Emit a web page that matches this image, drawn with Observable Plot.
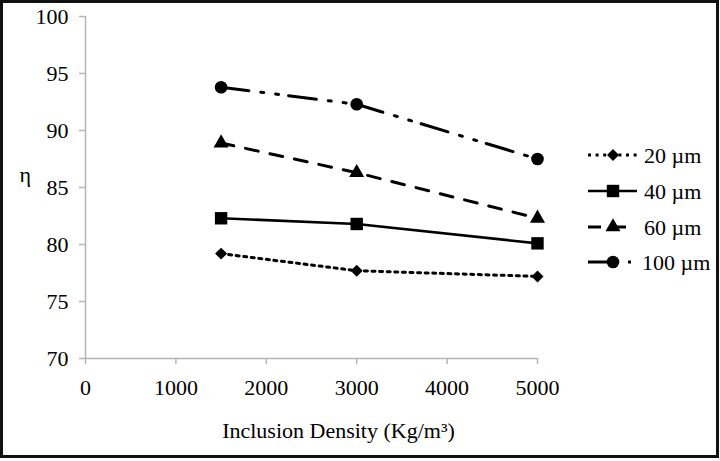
<!DOCTYPE html>
<html>
<head>
<meta charset="utf-8">
<script src="https://cdn.jsdelivr.net/npm/d3@7"></script>
<script src="https://cdn.jsdelivr.net/npm/@observablehq/plot@0.6"></script>
<style>
  html, body { margin: 0; padding: 0; background: #fff; }
  #wrap { position: relative; width: 720px; height: 461px; overflow: hidden; }
  #border { position: absolute; left: 0; top: 0; width: 713px; height: 452px; border: 3px solid #111; pointer-events: none; }
</style>
</head>
<body>
<div id="wrap"><div id="border"></div></div>
<script>
const densities = [1500, 3000, 5000];
const eta20 = [79.2, 77.7, 77.2];
const eta40 = [82.3, 81.8, 80.1];
const eta60 = [88.9, 86.3, 82.3];
const eta100 = [93.8, 92.3, 87.5];
const seriesLabels = ["20 µm", "40 µm", "60 µm", "100 µm"];
const xTicks = [0, 1000, 2000, 3000, 4000, 5000];
const yTicks = [70, 75, 80, 85, 90, 95, 100];
const xLabel = "Inclusion Density (Kg/m³)";
const yLabel = "η";

const seriesValues = [eta20, eta40, eta60, eta100];
const styles = [
  {symbol: "diamond2", r: 5.4, dash: "3 4.6", width: 3},
  {symbol: "square", r: 7.0, dash: null, width: 2.6},
  {symbol: "triangle", r: 5.6, dash: "13 12", width: 3},
  {symbol: "circle", r: 6.3, dash: "28 12 3 12 3 10", width: 3}
];

const rows = [];
seriesLabels.forEach((s, i) => densities.forEach((d, j) => rows.push({series: s, x: d, y: seriesValues[i][j]})));

const font = "'Liberation Serif', 'Times New Roman', serif";
const fs = 22;
const marks = [
  Plot.ruleY([70], {stroke: "#b5b5b5", strokeWidth: 1.5}),
  Plot.ruleX([0], {stroke: "#b5b5b5", strokeWidth: 1.5}),
  Plot.axisX({ticks: xTicks, tickSize: 6, stroke: "#b5b5b5", strokeWidth: 1.5, tickFormat: () => "", label: null}),
  Plot.axisX({ticks: xTicks, tickSize: 0, tickPadding: 21, fill: "#000", fontSize: fs, fontFamily: font, tickFormat: d => String(d), label: null}),
  Plot.axisY({ticks: yTicks, tickSize: 6, stroke: "#b5b5b5", strokeWidth: 1.5, tickFormat: () => "", label: null}),
  Plot.axisY({ticks: yTicks, tickSize: 0, tickPadding: 17, fill: "#000", fontSize: fs, fontFamily: font, tickFormat: d => String(d), label: null}),
  Plot.text([xLabel], {frameAnchor: "bottom", dx: 27, dy: 79, fontSize: fs, fontFamily: font, fill: "#000"}),
  Plot.text([yLabel], {frameAnchor: "left", dx: -66, dy: -13, fontSize: fs, fontFamily: font, fill: "#000"})
];
seriesLabels.forEach((s, i) => {
  const data = rows.filter(d => d.series === s);
  const st = styles[i];
  marks.push(Plot.line(data, {x: "x", y: "y", stroke: "#000", strokeWidth: st.width, strokeDasharray: st.dash || undefined}));
  marks.push(Plot.dot(data, {x: "x", y: "y", symbol: () => st.symbol, r: st.r, fill: "#000", stroke: "none"}));
});

const chart = Plot.plot({
  width: 720,
  height: 461,
  marginLeft: 85,
  marginRight: 183,
  marginTop: 16,
  marginBottom: 103,
  style: {fontFamily: font, background: "#fff", color: "#000"},
  x: {domain: [0, 5000]},
  y: {domain: [70, 100]},
  marks
});
document.getElementById("wrap").prepend(chart);

// legend
const svg = d3.select(chart);
const lg = svg.append("g")
  .attr("font-family", font)
  .style("font-size", fs + "px")
  .attr("text-anchor", "start");
const rowY = [155, 191, 227, 262];
const symMap = {diamond2: d3.symbolDiamond2, square: d3.symbolSquare, triangle: d3.symbolTriangle, circle: d3.symbolCircle};
seriesLabels.forEach((s, i) => {
  const st = styles[i];
  const y = rowY[i];
  const g = lg.append("g");
  g.append("line").attr("x1", 588).attr("x2", 637).attr("y1", y).attr("y2", y)
    .attr("stroke", "#000").attr("stroke-width", st.width)
    .attr("stroke-dasharray", st.dash);
  g.append("path").attr("transform", `translate(613,${y})`)
    .attr("d", d3.symbol(symMap[st.symbol], Math.PI * st.r * st.r)())
    .attr("fill", "#000");
  g.append("text").attr("x", i === 3 ? 642 : 644).attr("y", y).attr("dy", "0.35em")
    .attr("fill", "#000").attr("text-anchor", "start").text(s);
});
</script>
</body>
</html>
